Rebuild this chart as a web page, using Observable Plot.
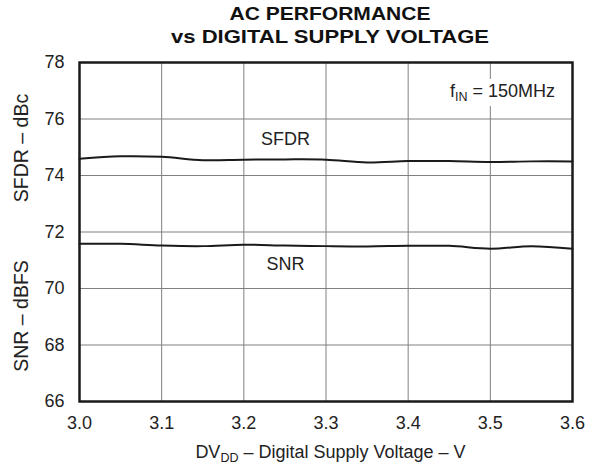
<!DOCTYPE html>
<html><head><meta charset="utf-8">
<script src="https://cdn.jsdelivr.net/npm/d3@7"></script>
<script src="https://cdn.jsdelivr.net/npm/@observablehq/plot@0.6"></script>
<style>body{margin:0;background:#fff}svg{display:block}</style>
</head><body><div id="c"></div>
<script>
const voltage = [3.0,3.05,3.1,3.15,3.2,3.25,3.3,3.35,3.4,3.45,3.5,3.55,3.6];
const sfdr = [74.59,74.68,74.66,74.54,74.56,74.57,74.56,74.46,74.51,74.51,74.48,74.50,74.50];
const snr  = [71.58,71.58,71.52,71.50,71.55,71.52,71.50,71.49,71.51,71.51,71.41,71.50,71.41];
const xTicks = [3.0,3.1,3.2,3.3,3.4,3.5,3.6];
const yTicks = [66,68,70,72,74,76,78];
const titleLines = ["AC PERFORMANCE","vs DIGITAL SUPPLY VOLTAGE"];
const seriesLabels = [{x:3.2507,y:75.27,t:"SFDR"},{x:3.2507,y:70.85,t:"SNR"}];

const sfdrData = voltage.map((v,i)=>({v, y:sfdr[i]}));
const snrData = voltage.map((v,i)=>({v, y:snr[i]}));
const font = "'Liberation Sans', Arial, sans-serif";
const ink = "#222";

const chart = Plot.plot({
  width:590, height:467,
  marginTop:62, marginBottom:66, marginLeft:79, marginRight:18,
  style:{fontFamily:font, fontSize:"18px", color:ink, background:"#fff"},
  x:{domain:[3.0,3.6], ticks:xTicks},
  y:{domain:[66,78], ticks:yTicks},
  marks:[
    Plot.gridX(xTicks,{stroke:"#808080", strokeOpacity:1, strokeWidth:1}),
    Plot.gridY(yTicks,{stroke:"#808080", strokeOpacity:1, strokeWidth:1}),
    Plot.axisX(xTicks,{tickSize:0, tickPadding:15, tickFormat:d3.format(".1f"), label:null, fontSize:18, fill:ink}),
    Plot.axisY(yTicks,{tickSize:0, tickPadding:15, label:null, fontSize:18, fill:ink}),
    Plot.line(sfdrData,{x:"v", y:"y", stroke:"#1a1a1a", strokeWidth:2, curve:"catmull-rom"}),
    Plot.line(snrData,{x:"v", y:"y", stroke:"#1a1a1a", strokeWidth:2, curve:"catmull-rom"}),
    Plot.text(seriesLabels,{x:"x", y:"y", text:"t", fontSize:18, fill:ink}),
    Plot.frame({stroke:"#1a1a1a", strokeWidth:2.5})
  ]
});
document.getElementById("c").appendChild(chart);

const svg = d3.select(chart);
const sx = chart.scale("x"), sy = chart.scale("y");
const titleW = [201, 318];
svg.selectAll(null).data(titleLines).enter().append("text")
  .attr("x", 330).attr("y",(d,i)=>20+i*22.5).attr("text-anchor","middle")
  .attr("textLength",(d,i)=>titleW[i]).attr("lengthAdjust","spacingAndGlyphs")
  .attr("font-family",font).attr("font-weight","bold").attr("font-size","18px").attr("fill","#111").text(d=>d);

// f_IN annotation with white box behind
const bg = svg.append("rect").attr("fill","#fff");
const ann = svg.append("text").attr("x", sx.apply(3.4515)).attr("y", sy.apply(76.76))
  .attr("text-anchor","start")
  .attr("font-family",font).attr("font-size","18px").attr("fill",ink);
ann.append("tspan").text("f");
ann.append("tspan").attr("dy",4).attr("font-size","12.5px").text("IN");
ann.append("tspan").attr("dy",-4).text(" = 150MHz");
const bb = ann.node().getBBox();
bg.attr("x",bb.x-4).attr("y",bb.y-2).attr("width",bb.width+8).attr("height",bb.height+4);

// Y axis labels
const yl = (t, yc) => svg.append("text").attr("transform",`translate(28,${yc}) rotate(-90)`)
  .attr("text-anchor","middle")
  .attr("font-family",font).attr("font-size","19.5px").attr("fill",ink).text(t);
yl("SFDR – dBc", 148);
yl("SNR – dBFS", 316);

// X axis label
const xl = svg.append("text").attr("x", 330.5).attr("y", 458).attr("text-anchor","middle")
  .attr("font-family",font).attr("font-size","18px").attr("fill",ink);
xl.append("tspan").text("DV");
xl.append("tspan").attr("dy",4).attr("font-size","12.5px").text("DD");
xl.append("tspan").attr("dy",-4).text(" – Digital Supply Voltage – V");
</script></body></html>
